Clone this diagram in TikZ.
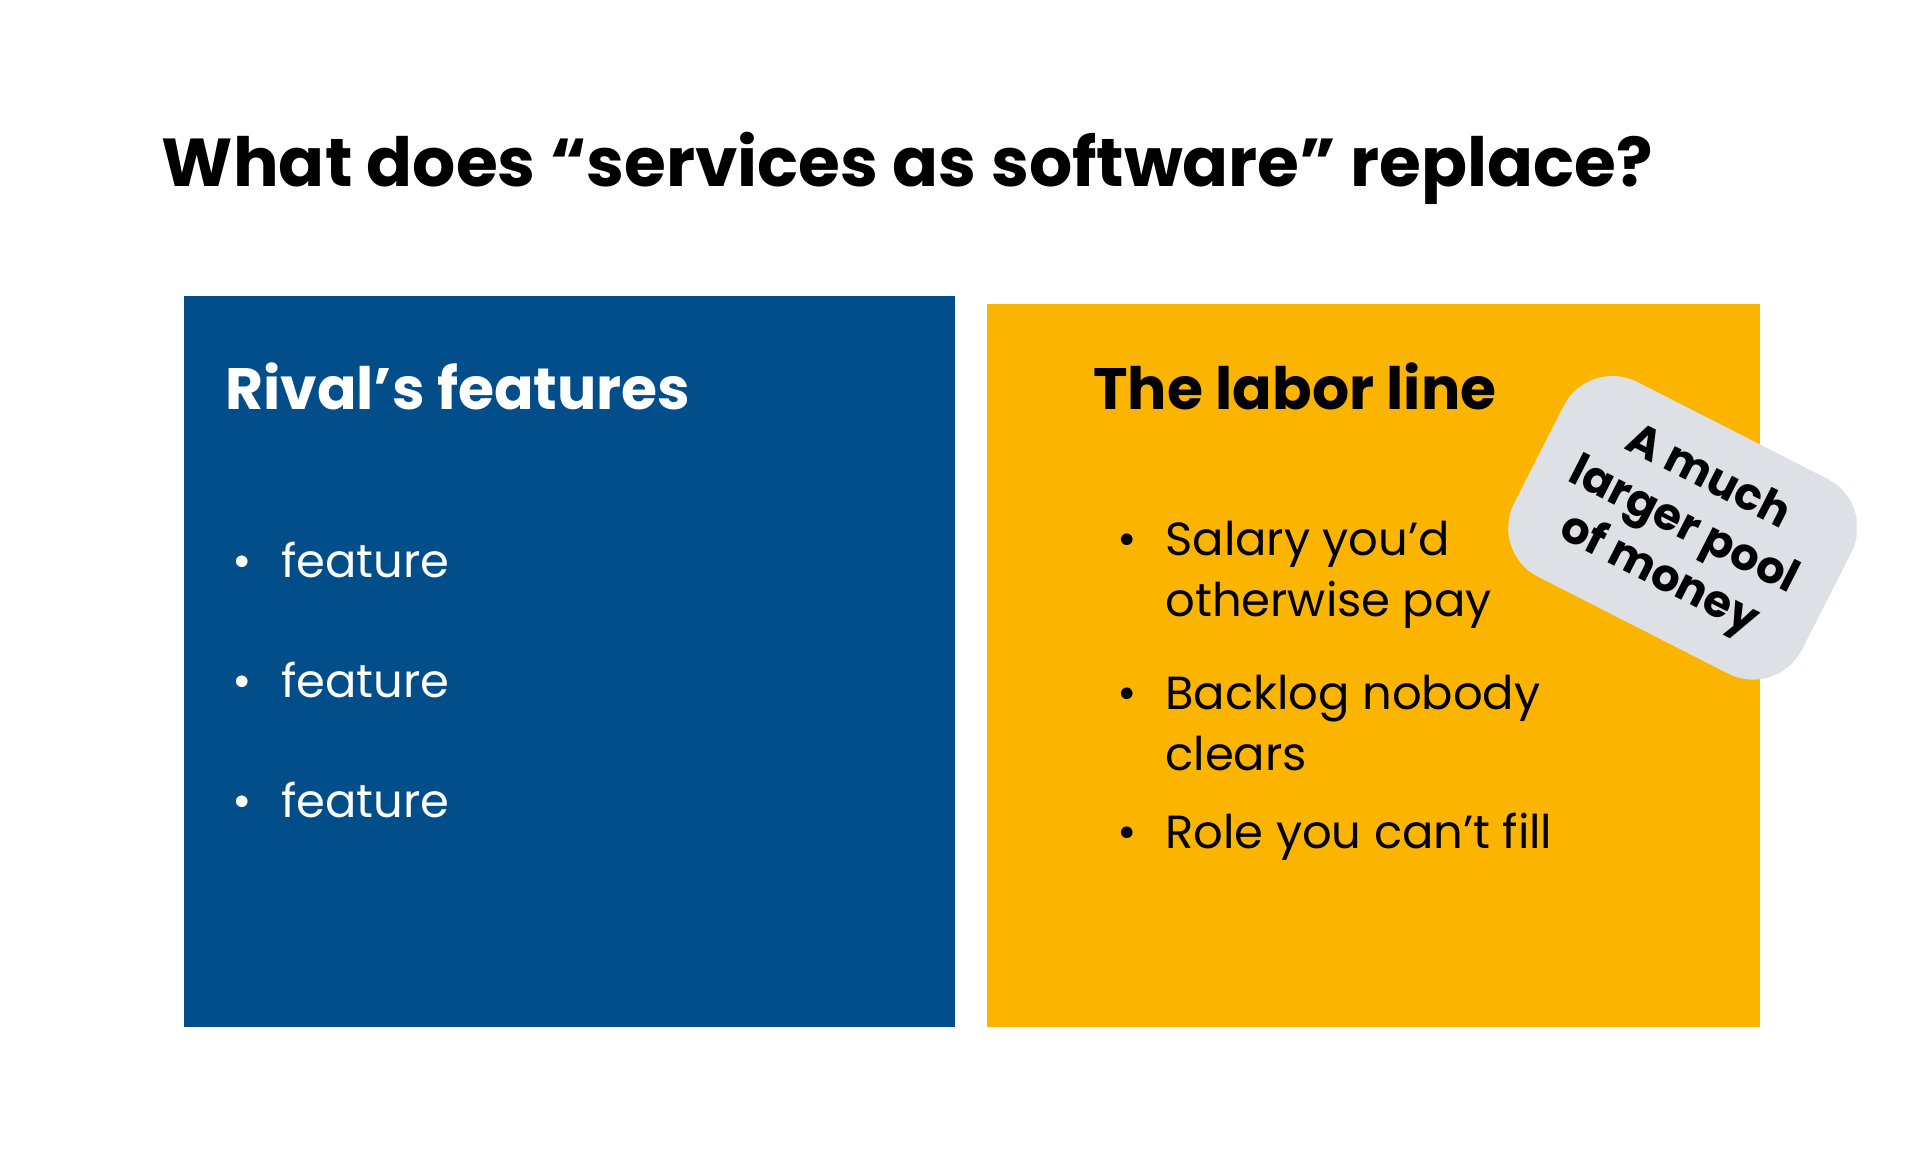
\documentclass[tikz,border=0pt]{standalone}
\usepackage{fontspec}
\setmainfont{Poppins}
\definecolor{navy}{HTML}{024E8A}
\definecolor{gold}{HTML}{FBB500}
\definecolor{tag}{HTML}{DDE1E6}
\begin{document}
\begin{tikzpicture}[x=0.5pt,y=-0.5pt,
  ttl/.style={anchor=base west,inner sep=0,font=\bfseries\fontsize{27.3}{32}\selectfont},
  hd/.style={anchor=base west,inner sep=0,font=\bfseries\fontsize{23.5}{28}\selectfont},
  itm/.style={anchor=base west,inner sep=0,font=\fontsize{18.7}{24}\selectfont},
  dot/.style={anchor=base,inner sep=0,font=\fontsize{19}{24}\selectfont}]
\useasboundingbox (0,0) rectangle (1546,932);
\fill[white] (0,0) rectangle (1546,932);
\node[ttl] (title) at (130,150) {What does “services as software” replace?};
\fill[navy] (148,238) rectangle (769,827);
\fill[gold] (795,245) rectangle (1417,827);
\node[hd,white] (h1) at (181,330) {Rival’s features};
\foreach \y/\n in {465/a,562/b,658/c}{
  \node[dot,white] (d\n) at (195,\y) {•};
  \node[itm,white] (f\n) at (226,\y) {feature};}
\node[hd] (h2) at (880,330) {The labor line};
\node[dot] (e1) at (908,447) {•};
\node[itm] (g1) at (938,447) {Salary you’d};
\node[itm] (g1b) at (938,496) {otherwise pay};
\node[dot] (e2) at (908,571) {•};
\node[itm] (g2) at (938,571) {Backlog nobody};
\node[itm] (g2b) at (938,620) {clears};
\node[dot] (e3) at (908,683) {•};
\node[itm] (g3) at (938,683) {Role you can’t fill};
\begin{scope}
\clip (0,0) rectangle (1495,932);
\node[rotate=-27,fill=tag,rounded corners=22pt,minimum width=130pt,minimum height=88pt,align=center,
  font=\bfseries\fontsize{18}{22}\selectfont] (tagn) at (1355,425) {A much\\larger pool\\of money};
\end{scope}
\end{tikzpicture}
\end{document}
